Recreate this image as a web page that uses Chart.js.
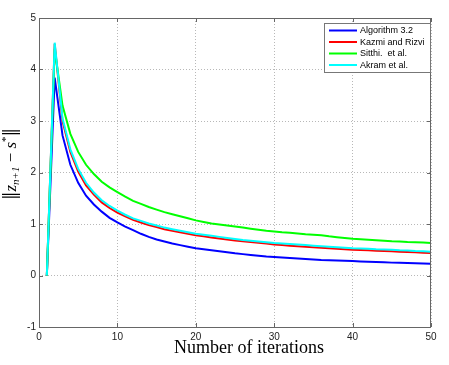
<!DOCTYPE html>
<html>
<head>
<meta charset="utf-8">
<script src="https://cdn.jsdelivr.net/npm/chart.js@4"></script>
<style>
  html, body { margin: 0; padding: 0; background: #fff; }
  canvas { display: block; }
</style>
</head>
<body>
<canvas id="errChart" width="449" height="365"></canvas>
<script>
// iteration index (x) and the error values
const iterations = [1, 2, 3, 4, 5, 6, 7, 8, 9, 10,
    11, 12, 13, 14, 15, 16, 17, 18, 19, 20,
    21, 22, 23, 24, 25, 26, 27, 28, 29, 30,
    31, 32, 33, 34, 35, 36, 37, 38, 39, 40,
    41, 42, 43, 44, 45, 46, 47, 48, 49, 50];

const algorithm32 = [0, 3.84, 2.72, 2.15, 1.8, 1.55, 1.38, 1.24, 1.12, 1.03,
    0.95, 0.88, 0.81, 0.75, 0.70, 0.66, 0.62, 0.59, 0.56, 0.53,
    0.51, 0.49, 0.47, 0.45, 0.43, 0.415, 0.40, 0.385, 0.37, 0.36,
    0.35, 0.34, 0.33, 0.32, 0.31, 0.30, 0.295, 0.29, 0.285, 0.28,
    0.274, 0.268, 0.262, 0.256, 0.25, 0.246, 0.242, 0.238, 0.234, 0.23];

const kazmiRizvi = [0, 4.5, 3.0, 2.4, 2.02, 1.75, 1.57, 1.42, 1.31, 1.22,
    1.15, 1.08, 1.03, 0.98, 0.94, 0.90, 0.87, 0.84, 0.81, 0.78,
    0.76, 0.74, 0.72, 0.70, 0.68, 0.665, 0.65, 0.635, 0.62, 0.60,
    0.59, 0.58, 0.57, 0.56, 0.55, 0.54, 0.53, 0.52, 0.51, 0.50,
    0.495, 0.49, 0.48, 0.475, 0.47, 0.46, 0.455, 0.45, 0.44, 0.435];

const sitthi = [0, 4.4, 3.3, 2.75, 2.4, 2.15, 1.97, 1.82, 1.71, 1.62,
    1.53, 1.45, 1.39, 1.33, 1.28, 1.23, 1.19, 1.15, 1.11, 1.07,
    1.04, 1.01, 0.99, 0.97, 0.95, 0.93, 0.91, 0.89, 0.87, 0.855,
    0.84, 0.83, 0.815, 0.80, 0.79, 0.78, 0.76, 0.745, 0.73, 0.715,
    0.705, 0.695, 0.685, 0.675, 0.665, 0.66, 0.65, 0.645, 0.64, 0.63];

const akram = [0, 4.52, 3.05, 2.45, 2.07, 1.8, 1.61, 1.46, 1.35, 1.26,
    1.18, 1.11, 1.06, 1.01, 0.97, 0.93, 0.90, 0.87, 0.84, 0.81,
    0.79, 0.77, 0.75, 0.73, 0.71, 0.69, 0.675, 0.66, 0.645, 0.63,
    0.62, 0.61, 0.60, 0.59, 0.58, 0.57, 0.56, 0.55, 0.54, 0.53,
    0.525, 0.52, 0.51, 0.505, 0.50, 0.49, 0.485, 0.475, 0.47, 0.46];

const seriesNames = ['Algorithm 3.2', 'Kazmi and Rizvi', 'Sitthi.  et al.', 'Akram et al.'];
const seriesColors = ['#0000ff', '#ff0000', '#00ff00', '#00ffff'];
const seriesValues = [algorithm32, kazmiRizvi, sitthi, akram];
const drawOrder = [3, 2, 1, 0]; // cyan ends up on top

const xTicks = [0, 10, 20, 30, 40, 50];
const yTicks = [-1, 0, 1, 2, 3, 4, 5];
const xTitle = 'Number of iterations';

const toPoints = vals => iterations.map((it, i) => ({ x: it, y: vals[i] }));

// matlab style box + inward ticks, legend, axis titles
const matlabFrame = {
    id: 'matlabFrame',
    afterDatasetsDraw(chart) {
        const { ctx, chartArea: a, scales } = chart;
        ctx.save();
        ctx.strokeStyle = '#666';
        ctx.lineWidth = 1;
        ctx.strokeRect(a.left + 0.5, a.top + 0.5, a.right - a.left - 1, a.bottom - a.top);
        ctx.beginPath();
        xTicks.forEach(v => {
            const px = Math.round(scales.x.getPixelForValue(v)) + 0.5;
            ctx.moveTo(px, a.bottom); ctx.lineTo(px, a.bottom - 4);
            ctx.moveTo(px, a.top); ctx.lineTo(px, a.top + 4);
        });
        yTicks.forEach(v => {
            const py = Math.round(scales.y.getPixelForValue(v)) + 0.5;
            ctx.moveTo(a.left, py); ctx.lineTo(a.left + 4, py);
            ctx.moveTo(a.right, py); ctx.lineTo(a.right - 4, py);
        });
        ctx.stroke();

        // legend
        const lx = 324, ly = 23, lw = 106, lh = 49;
        ctx.fillStyle = '#fff';
        ctx.fillRect(lx, ly, lw, lh);
        ctx.strokeStyle = '#777';
        ctx.strokeRect(lx + 0.5, ly + 0.5, lw, lh);
        ctx.font = '9px "Liberation Sans", Arial, sans-serif';
        ctx.textBaseline = 'middle';
        seriesNames.forEach((name, i) => {
            const ry = ly + 7.5 + i * 11.5;
            ctx.strokeStyle = seriesColors[i];
            ctx.lineWidth = 2;
            ctx.beginPath();
            ctx.moveTo(lx + 5, ry); ctx.lineTo(lx + 33, ry);
            ctx.stroke();
            ctx.fillStyle = '#000';
            ctx.fillText(name, lx + 36, ry + 0.5);
        });

        // x title
        ctx.fillStyle = '#000';
        ctx.font = '18px "Liberation Serif", "DejaVu Serif", serif';
        ctx.textAlign = 'center';
        ctx.textBaseline = 'alphabetic';
        ctx.fillText(xTitle, 249, 353);

        // y title  ||z_{n+1} - s*||
        ctx.translate(11, 164);
        ctx.rotate(-Math.PI / 2);
        ctx.textAlign = 'left';
        const bars = '17px "DejaVu Sans", sans-serif';
        const big = '17px "Liberation Serif", "DejaVu Serif", serif';
        const bigI = 'italic 17px "Liberation Serif", "DejaVu Serif", serif';
        const small = 'italic 11px "Liberation Serif", "DejaVu Serif", serif';
        const parts = [
            { t: '\u2016', f: bars, dy: 0 },
            { t: 'z', f: bigI, dy: 0 },
            { t: 'n+1', f: small, dy: 3 },
            { t: ' \u2212 ', f: big, dy: 0 },
            { t: 's', f: bigI, dy: 0 },
            { t: '*', f: '11px "Liberation Serif", serif', dy: -7 },
            { t: '\u2016', f: bars, dy: 0 }
        ];
        let total = 0;
        parts.forEach(p => { ctx.font = p.f; p.w = ctx.measureText(p.t).width; total += p.w; });
        let cx = -total / 2;
        parts.forEach(p => {
            ctx.font = p.f;
            ctx.fillText(p.t, cx, 5 + p.dy);
            cx += p.w;
        });
        ctx.restore();
    }
};

const tickFont = { family: '"Liberation Sans", Arial, sans-serif', size: 10 };

new Chart(document.getElementById('errChart').getContext('2d'), {
    type: 'line',
    data: {
        datasets: seriesNames.map((name, i) => ({
            label: name,
            data: toPoints(seriesValues[i]),
            borderColor: seriesColors[i],
            backgroundColor: seriesColors[i],
            borderWidth: 2,
            pointRadius: 0,
            tension: 0,
            fill: false,
            order: drawOrder[i]
        }))
    },
    options: {
        responsive: false,
        animation: false,
        devicePixelRatio: 1,
        layout: { padding: { top: 18, right: 18, left: 0, bottom: 0 } },
        plugins: { legend: { display: false }, tooltip: { enabled: false } },
        scales: {
            x: {
                type: 'linear', min: 0, max: 50,
                afterBuildTicks: s => { s.ticks = xTicks.map(v => ({ value: v })); },
                ticks: { font: tickFont, color: '#222', padding: 4, maxRotation: 0 },
                grid: { color: '#b8b8b8', drawTicks: false },
                border: { display: false, dash: [1, 2] },
                afterFit: s => { s.height = 38; }
            },
            y: {
                type: 'linear', min: -1, max: 5,
                afterBuildTicks: s => { s.ticks = yTicks.map(v => ({ value: v })); },
                ticks: { font: tickFont, color: '#222', padding: 3 },
                grid: { color: '#b8b8b8', drawTicks: false },
                border: { display: false, dash: [1, 2] },
                afterFit: s => { s.width = 39; }
            }
        }
    },
    plugins: [matlabFrame]
});
</script>
</body>
</html>
